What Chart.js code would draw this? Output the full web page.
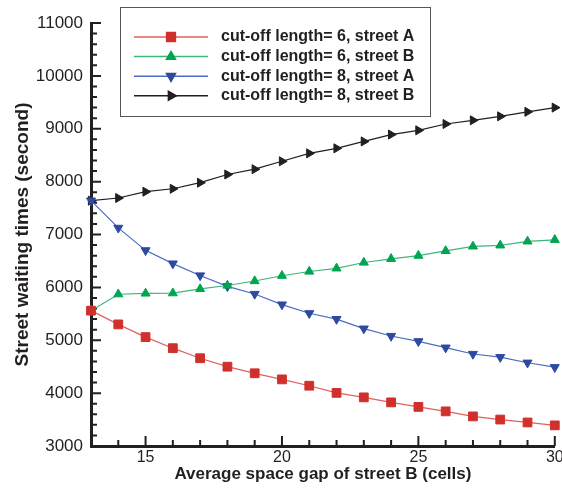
<!DOCTYPE html>
<html>
<head>
<meta charset="utf-8">
<script src="https://cdn.jsdelivr.net/npm/chart.js"></script>
<style>
  html, body { margin: 0; padding: 0; background: #fff; }
  #myCanvas { display: block; }
</style>
</head>
<body>
<canvas id="myCanvas" width="562" height="488"></canvas>
<script>
// average space gap of street B (cells)
const gaps = [13, 14, 15, 16, 17, 18, 19, 20, 21, 22, 23, 24, 25, 26, 27, 28, 29, 30]

// street waiting times (second)
const cut6StreetA = [5560, 5300, 5060, 4850, 4660, 4500, 4375, 4260, 4140, 4005, 3920, 3825, 3740, 3655, 3560, 3500, 3445, 3390]
const cut6StreetB = [5560, 5870, 5885, 5890, 5970, 6035, 6120, 6220, 6300, 6360, 6470, 6540, 6600, 6690, 6775, 6795, 6870, 6900]
const cut8StreetA = [7640, 7125, 6700, 6450, 6225, 6020, 5875, 5675, 5510, 5400, 5220, 5080, 4980, 4860, 4740, 4680, 4575, 4490]
const cut8StreetB = [7640, 7690, 7810, 7865, 7980, 8135, 8235, 8385, 8535, 8630, 8760, 8890, 8970, 9090, 9160, 9235, 9320, 9400]

const seriesLabels = ['cut-off length= 6, street A', 'cut-off length= 6, street B', 'cut-off length= 8, street A', 'cut-off length= 8, street B']

const xTickLabels = [15, 20, 25, 30]
const yTickLabels = [3000, 4000, 5000, 6000, 7000, 8000, 9000, 10000, 11000]

const ink = '#231f20'
const fontFamily = '"Liberation Sans", Arial, Helvetica, sans-serif'

document.addEventListener('DOMContentLoaded', () => {
  createLineChart()
})

function toPoints(values) {
  return values.map((v, i) => ({ x: gaps[i], y: v }))
}

// tecplot style ticks, pointing into the plot, with minor ticks
const insideTicks = {
  id: 'insideTicks',
  beforeDatasetsDraw(chart) {
    const { ctx, chartArea, scales: { x, y } } = chart
    ctx.save()
    ctx.strokeStyle = ink
    ctx.lineWidth = 2
    ctx.beginPath()
    for (let i = 0; i < yTickLabels.length; i++) {
      const py = y.getPixelForValue(yTickLabels[i])
      ctx.moveTo(chartArea.left, py)
      ctx.lineTo(chartArea.left + 10, py)
      if (i < yTickLabels.length - 1) {
        const step = (yTickLabels[i + 1] - yTickLabels[i]) / 5
        for (let k = 1; k < 5; k++) {
          const my = y.getPixelForValue(yTickLabels[i] + k * step)
          ctx.moveTo(chartArea.left, my)
          ctx.lineTo(chartArea.left + 6, my)
        }
      }
    }
    for (let g = gaps[1]; g <= gaps[gaps.length - 1]; g++) {
      const px = x.getPixelForValue(g)
      const len = xTickLabels.includes(g) ? 10 : 6
      ctx.moveTo(px, chartArea.bottom)
      ctx.lineTo(px, chartArea.bottom - len)
    }
    ctx.stroke()
    ctx.restore()
  }
}

// legend box: line sample with the marker in the middle
const boxLegend = {
  id: 'boxLegend',
  afterDraw(chart) {
    const ctx = chart.ctx
    ctx.save()
    ctx.fillStyle = '#fff'
    ctx.fillRect(120.5, 7.5, 310, 109)
    ctx.strokeStyle = '#555'
    ctx.lineWidth = 1
    ctx.strokeRect(120.5, 7.5, 310, 109)

    chart.data.datasets.forEach((ds, i) => {
      const yy = 37 + i * 19.6
      ctx.strokeStyle = ds.borderColor
      ctx.lineWidth = 1.5
      ctx.beginPath()
      ctx.moveTo(134, yy)
      ctx.lineTo(208, yy)
      ctx.stroke()

      ctx.fillStyle = ds.pointBackgroundColor
      ctx.strokeStyle = ds.pointBackgroundColor
      Chart.helpers.drawPoint(ctx, {
        pointStyle: ds.pointStyle,
        rotation: ds.pointRotation || 0,
        radius: ds.pointRadius,
        borderWidth: 1
      }, 171, yy)

      ctx.fillStyle = ink
      ctx.font = 'bold 16px ' + fontFamily
      ctx.textBaseline = 'middle'
      ctx.textAlign = 'left'
      ctx.fillText(ds.label, 221, yy)
    })
    ctx.restore()
  }
}

function createLineChart() {
  const context = document.getElementById('myCanvas').getContext('2d')
  Chart.defaults.font.family = fontFamily
  Chart.defaults.color = ink

  new Chart(context, {
    type: 'line',
    data: {
      datasets: [
        {
          label: seriesLabels[0],
          data: toPoints(cut6StreetA),
          borderColor: '#e0605c',
          pointBackgroundColor: '#d0302c',
          pointBorderColor: '#d0302c',
          pointStyle: 'rect',
          pointRadius: 6.2
        },
        {
          label: seriesLabels[1],
          data: toPoints(cut6StreetB),
          borderColor: '#3cb878',
          pointBackgroundColor: '#00a551',
          pointBorderColor: '#00a551',
          pointStyle: 'triangle',
          pointRadius: 5.2
        },
        {
          label: seriesLabels[2],
          data: toPoints(cut8StreetA),
          borderColor: '#4a6cc4',
          pointBackgroundColor: '#2e4a9e',
          pointBorderColor: '#2e4a9e',
          pointStyle: 'triangle',
          pointRotation: 180,
          pointRadius: 5.2
        },
        {
          label: seriesLabels[3],
          data: toPoints(cut8StreetB),
          borderColor: '#231f20',
          pointBackgroundColor: '#231f20',
          pointBorderColor: '#231f20',
          pointStyle: 'triangle',
          pointRotation: 90,
          pointRadius: 5.2
        }
      ].map(ds => Object.assign({
        borderWidth: 1.2,
        pointBorderWidth: 1,
        fill: false,
        tension: 0,
        clip: false
      }, ds))
    },
    options: {
      responsive: false,
      animation: false,
      layout: { padding: { top: 23, right: 6, left: 0, bottom: 0 } },
      plugins: {
        legend: { display: false },
        tooltip: { enabled: false }
      },
      scales: {
        x: {
          type: 'linear',
          min: gaps[0],
          max: gaps[gaps.length - 1],
          afterBuildTicks: (scale) => {
            scale.ticks = xTickLabels.map(v => ({ value: v }))
          },
          afterFit: (scale) => {
            scale.height = 42
            scale.paddingLeft = 0
            scale.paddingRight = 0
          },
          grid: { display: true, drawOnChartArea: false, drawTicks: false },
          border: { display: true, color: ink, width: 3 },
          ticks: { padding: 2, maxRotation: 0, autoSkip: false, font: { size: 16 }, color: ink },
          title: {
            display: true,
            text: 'Average space gap of street B (cells)',
            font: { size: 17, weight: 'bold' },
            color: ink,
            padding: { top: 0, bottom: 3 }
          }
        },
        y: {
          min: yTickLabels[0],
          max: yTickLabels[yTickLabels.length - 1],
          afterBuildTicks: (scale) => {
            scale.ticks = yTickLabels.map(v => ({ value: v }))
          },
          afterFit: (scale) => {
            scale.width = 91
          },
          grid: { display: true, drawOnChartArea: false, drawTicks: false },
          border: { display: true, color: ink, width: 3 },
          ticks: { padding: 8, font: { size: 17 }, color: ink, callback: (v) => String(v) },
          title: {
            display: true,
            text: 'Street waiting times (second)',
            font: { size: 19, weight: 'bold' },
            color: ink,
            padding: { top: 11, bottom: 0 }
          }
        }
      }
    },
    plugins: [insideTicks, boxLegend]
  })
}
</script>
</body>
</html>
